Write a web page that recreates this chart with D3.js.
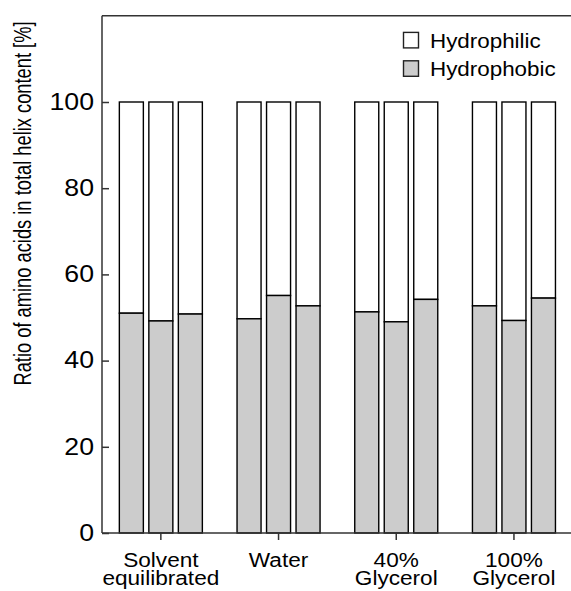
<!DOCTYPE html>
<html>
<head>
<meta charset="utf-8">
<script src="https://cdn.jsdelivr.net/npm/d3@7"></script>
<style>
  html, body { margin: 0; padding: 0; background: #fff; }
  svg { display: block; }
  text { font-family: "Liberation Sans", Arial, Helvetica, sans-serif; fill: #000; }
</style>
</head>
<body>
<svg id="chart" width="571" height="591"></svg>
<script>
// Solvent conditions (groups) and the three replicate bars in each
const groups = ["Solvent equilibrated", "Water", "40% Glycerol", "100% Glycerol"];
const groupLabels = [["Solvent", "equilibrated"], ["Water"], ["40%", "Glycerol"], ["100%", "Glycerol"]];
const replicates = [0, 1, 2];

// Hydrophobic share of helix residues [%] per replicate
const hydrophobic = [
  [51.0, 49.2, 50.8],
  [49.7, 55.1, 52.7],
  [51.3, 49.0, 54.2],
  [52.7, 49.3, 54.5]
];
// Hydrophilic share completes each bar to 100 %
const hydrophilic = hydrophobic.map(g => g.map(v => +(100 - v).toFixed(1)));

const yTicks = [0, 20, 40, 60, 80, 100];
const legendItems = ["Hydrophilic", "Hydrophobic"];

// Layout
const plotLeft = 102, plotBottom = 533, plotTop = 15.8;
const groupStep = 117.7;
const textStretch = 1.16;
const grey = "#cccccc";

const svg = d3.select("#chart");

const x = d3.scaleBand()
  .domain(groups)
  .range([plotLeft, plotLeft + groupStep * groups.length]);

const xSub = d3.scaleBand()
  .domain(replicates)
  .range([0, x.bandwidth()])
  .paddingInner(0.186)
  .paddingOuter(0.588);

const y = d3.scaleLinear().domain([0, 120]).range([plotBottom, plotTop]);

// Bars: hydrophobic at the bottom, hydrophilic stacked on top
const gBars = svg.append("g");
groups.forEach((grp, gi) => {
  replicates.forEach(ri => {
    const bx = x(grp) + xSub(ri);
    const lo = hydrophobic[gi][ri];
    const hi = lo + hydrophilic[gi][ri];
    gBars.append("rect")
      .attr("x", bx).attr("width", xSub.bandwidth())
      .attr("y", y(hi)).attr("height", y(lo) - y(hi))
      .attr("fill", "#fff").attr("stroke", "#000").attr("stroke-width", 1.4);
    gBars.append("rect")
      .attr("x", bx).attr("width", xSub.bandwidth())
      .attr("y", y(lo)).attr("height", y(0) - y(lo))
      .attr("fill", grey).attr("stroke", "#000").attr("stroke-width", 1.4);
  });
});

// Frame top line
svg.append("line")
  .attr("x1", plotLeft).attr("x2", 571)
  .attr("y1", y(120)).attr("y2", y(120))
  .attr("stroke", "#333").attr("stroke-width", 1.5);

// Y axis with inward ticks
const yAxis = svg.append("g")
  .attr("transform", `translate(${plotLeft},0)`)
  .call(d3.axisLeft(y).tickValues(yTicks).tickSizeInner(-7).tickSizeOuter(0).tickPadding(8));
yAxis.select(".domain").attr("stroke", "#333").attr("stroke-width", 1.5)
  .attr("d", `M0,${y(120)}V${y(0)}`);
yAxis.selectAll(".tick line").attr("stroke", "#333").attr("stroke-width", 1.5);
yAxis.selectAll(".tick text")
  .attr("x", 0)
  .attr("transform", `translate(-8,0) scale(${textStretch},1)`)
  .style("font-size", "23px")
  .style("font-family", '"Liberation Sans", Arial, sans-serif')
  .attr("fill", "#000");

// X axis with outward ticks at group centres
const xAxis = svg.append("g")
  .attr("transform", `translate(0,${plotBottom})`)
  .call(d3.axisBottom(x).tickSizeInner(7).tickSizeOuter(0).tickFormat(""));
xAxis.select(".domain").attr("stroke", "#333").attr("stroke-width", 1.5)
  .attr("d", `M${plotLeft},0H571`);
xAxis.selectAll(".tick line").attr("stroke", "#333").attr("stroke-width", 1.5);

// Category labels, one text per line
groups.forEach((grp, gi) => {
  const cx = x(grp) + x.bandwidth() / 2;
  groupLabels[gi].forEach((line, li) => {
    svg.append("text")
      .attr("text-anchor", "middle")
      .attr("transform", `translate(${cx},${566.7 + li * 18.6}) scale(${textStretch},1)`)
      .style("font-size", "19.5px")
      .text(line);
  });
});

// Y axis title
svg.append("text")
  .attr("text-anchor", "middle")
  .attr("transform", `translate(31,203.5) scale(1.3,1) rotate(-90)`)
  .style("font-size", "18.3px")
  .text("Ratio of amino acids in total helix content [%]");

// Legend
const legend = svg.append("g");
legendItems.forEach((name, i) => {
  const base = 47.7 + i * 28.4;
  legend.append("rect")
    .attr("x", 403.5).attr("y", base - 15.3)
    .attr("width", 15).attr("height", 15.5)
    .attr("fill", i === 0 ? "#fff" : grey)
    .attr("stroke", "#222").attr("stroke-width", 1.4);
  legend.append("text")
    .attr("transform", `translate(430,${base}) scale(1.12,1)`)
    .style("font-size", "20px")
    .text(name);
});
</script>
</body>
</html>
